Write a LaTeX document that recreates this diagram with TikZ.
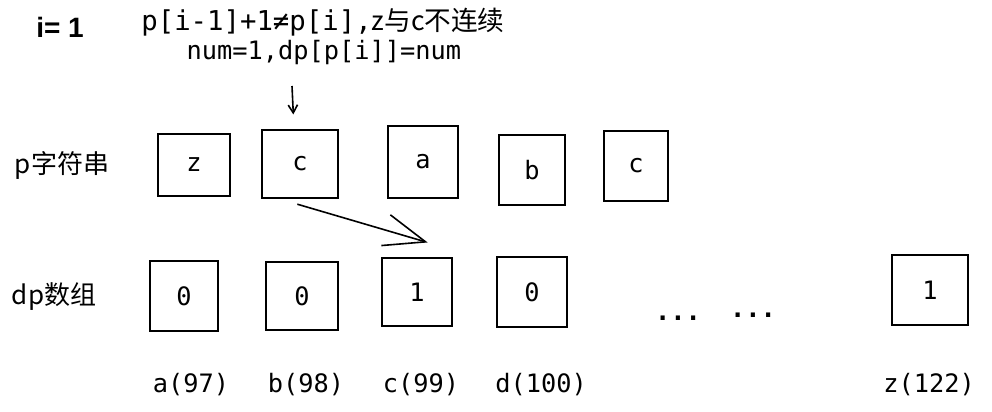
\documentclass[tikz,border=0pt]{standalone}
\usepackage{fontspec}
\setmainfont{Noto Sans}
\setmonofont{DejaVu Sans Mono}
\newfontfamily\cjk{Noto Sans CJK SC}
\newfontfamily\heavy{Liberation Sans}
\usetikzlibrary{arrows.meta}
\tikzset{
  cell/.style={draw, line width=1.3pt, inner sep=0pt, font=\ttfamily\fontsize{19}{22}\selectfont},
  idx/.style={font=\ttfamily\fontsize{19}{22}\selectfont},
  lbl/.style={font=\cjk\fontsize{19.5}{22}\selectfont},
  >=Stealth
}
\begin{document}
\begin{tikzpicture}[x=0.75pt, y=-0.75pt]
  \useasboundingbox (0,0) rectangle (992,411);
  \node[font=\heavy\bfseries\fontsize{21}{24}\selectfont] (iv) at (60,27) {i= 1};
  \node[idx, font=\ttfamily\fontsize{20.5}{22}\selectfont] (cond) at (323,22) {p[i-1]+1≠p[i],{\cjk\fontsize{20}{22}\selectfont z与c不连续}};
  \node[idx] (upd) at (324,53) {num=1,dp[p[i]]=num};
  \node[lbl] (plab) at (62,165) {p字符串};
  \node[lbl] (dlab) at (54,297) {dp数组};
  % p string
  \node[cell, minimum width=54pt, minimum height=46pt] (p1) at (194,165) {z};
  \node[cell, minimum width=57pt, minimum height=51pt] (p2) at (300,164) {c};
  \node[cell, minimum width=52pt, minimum height=54pt] (p3) at (423,162) {a};
  \node[cell, minimum width=50pt, minimum height=52pt] (p4) at (532,170) {b};
  \node[cell, minimum width=48pt, minimum height=52pt] (p5) at (636,166) {c};
  % dp array
  \node[cell, minimum width=51pt, minimum height=52pt] (d1) at (184,296) {0};
  \node[cell, minimum width=54pt, minimum height=51pt] (d2) at (302,296) {0};
  \node[cell, minimum width=52pt, minimum height=51pt] (d3) at (417,292) {1};
  \node[cell, minimum width=52pt, minimum height=52pt] (d4) at (532,292) {0};
  \node[cell, minimum width=57pt, minimum height=52pt] (dz) at (930,290) {1};
  \node[idx, font=\ttfamily\bfseries\fontsize{19}{22}\selectfont, anchor=base] (dots1) at (678,320) {...};
  \node[idx, font=\ttfamily\bfseries\fontsize{19}{22}\selectfont, anchor=base] (dots2) at (753,317) {...};
  % char codes
  \node[idx] (ca) at (191,385) {a(97)};
  \node[idx] (cb) at (306,385) {b(98)};
  \node[idx] (cc) at (421,385) {c(99)};
  \node[idx] (cd) at (541,385) {d(100)};
  \node[idx] (cz) at (929,385) {z(122)};
  % pointers
  \coordinate (ptr) at (292,86);
  \draw[line width=1.2pt, -{Straight Barb[length=6pt,width=7pt]}] (ptr) -- ([xshift=-5pt,yshift=11pt]p2.north);
  \draw[line width=1.2pt, -{Straight Barb[length=31pt,width=24pt]}] ([xshift=-2pt,yshift=-4pt]p2.south) -- ([xshift=8pt,yshift=11pt]d3.north);
\end{tikzpicture}
\end{document}
